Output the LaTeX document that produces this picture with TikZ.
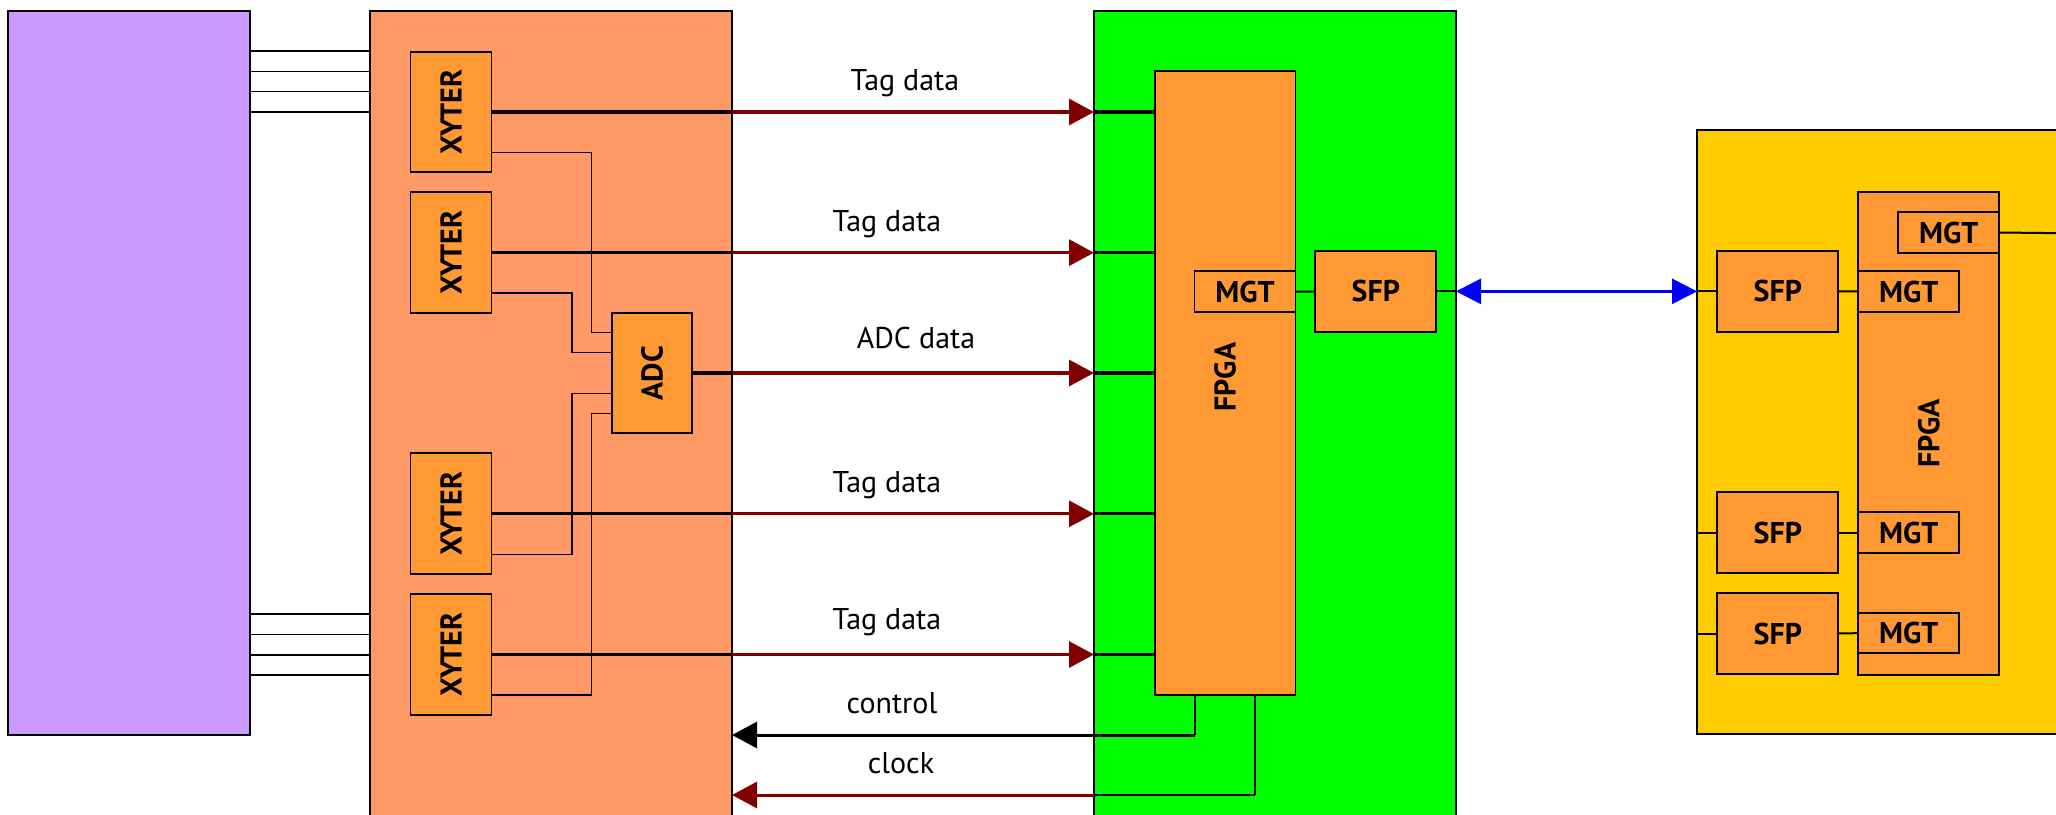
\documentclass[tikz,border=0pt]{standalone}
\usepackage{fontspec}
\setmainfont{PT Sans}
\usetikzlibrary{arrows.meta,calc,fit}
\definecolor{lilac}{HTML}{CC99FF}
\definecolor{salmon}{HTML}{FF9966}
\definecolor{chip}{HTML}{FF9933}
\definecolor{boardgreen}{HTML}{00FF00}
\definecolor{gold}{HTML}{FFCC00}
\definecolor{darkred}{HTML}{800000}
\definecolor{linkblue}{HTML}{0000FF}
\begin{document}
\begin{tikzpicture}[x=0.5pt,y=-0.5pt,
  board/.style={draw=black,line width=0.8pt,inner sep=0pt,outer sep=0pt},
  chipbox/.style={draw=black,line width=0.9pt,fill=chip,inner sep=0pt,outer sep=0pt},
  chiptext/.style={inner sep=0pt,font=\bfseries\fontsize{15}{17}\selectfont},
  hname/.style={label={[chiptext]center:#1}},
  vname/.style={label={[chiptext,rotate=90]center:#1}},
  wire/.style={line width=0.7pt},
  port/.style={line width=1pt},
  bus/.style={line width=1.6pt},
  tip/.style={-{Triangle[length=12.5pt,width=13pt]}},
  datalink/.style={bus,draw=darkred,tip},
  lbl/.style={font=\fontsize{15}{17}\selectfont,anchor=base,inner sep=0pt}
]
\useasboundingbox (0,0) rectangle (2056,814);
\clip (0,0) rectangle (2056,814);

% boards
\node[board,fill=lilac,fit={(8,11) (250,735)}] (det) {};
\node[board,fill=salmon,fit={(370,11) (732,840)}] (feb) {};
\node[board,fill=boardgreen,fit={(1094,11) (1456,840)}] (rob) {};
\node[board,fill=gold,fit={(1697,130) (2080,734)}] (dpb) {};

% front-end board chips
\node[chipbox,vname=XYTER,fit={(410.5,51.7) (491.5,172.3)}] (xa) {};
\node[chipbox,vname=XYTER,fit={(410.5,192.3) (491.5,313)}] (xb) {};
\node[chipbox,vname=XYTER,fit={(410.5,453.3) (491.5,574.3)}] (xc) {};
\node[chipbox,vname=XYTER,fit={(410.5,594) (491.5,715)}] (xd) {};
\node[chipbox,vname=ADC,fit={(612,312.7) (692,433.3)}] (adc) {};

% readout board
\node[chipbox,fit={(1154.6,71) (1295.4,694.7)}] (fpga) {};
\node[chiptext,rotate=90] (fpganame) at (1225,377) {FPGA};
\node[chipbox,hname=MGT,fit={(1194.4,271.3) (1295.4,312.3)}] (mgt) {};
\node[chipbox,hname=SFP,fit={(1315.3,250.7) (1436.2,332)}] (sfp) {};

% data processing board
\node[chipbox,vname=FPGA,fit={(1858.3,192.3) (1999.3,675)}] (dfpga) {};
\node[chipbox,hname=MGT,fit={(1898.3,212.3) (1999.3,252.7)}] (dmgt) {};
\node[chipbox,hname=MGT,fit={(1858.3,271.3) (1959.3,311.7)}] (dmgta) {};
\node[chipbox,hname=MGT,fit={(1858.3,512.3) (1959.3,553.3)}] (dmgtb) {};
\node[chipbox,hname=MGT,fit={(1858.3,613) (1959.3,653.3)}] (dmgtc) {};
\node[chipbox,hname=SFP,fit={(1717.3,251) (1838.3,331.7)}] (dsfpa) {};
\node[chipbox,hname=SFP,fit={(1717.3,492.3) (1838.3,573.3)}] (dsfpb) {};
\node[chipbox,hname=SFP,fit={(1717.3,593) (1838.3,674)}] (dsfpc) {};

% detector cables
\foreach \y in {51,71.3,91.3,112,614,634.7,655,675}
  \draw[wire] (det.east |- 0,\y) -- (feb.west |- 0,\y);

% XYTER to ADC lines
\draw[wire] ($(xa.south east)+(0,-20)$) -- ++(99.8,0) |- ($(adc.north west)+(0,20)$);
\draw[wire] ($(xb.south east)+(0,-20)$) -- ++(80.5,0) |- ($(adc.north west)+(0,40)$);
\draw[wire] ($(xc.south east)+(0,-20)$) -- ++(80.5,0) |- ($(adc.south west)+(0,-40)$);
\draw[wire] ($(xd.south east)+(0,-20)$) -- ++(99.8,0) |- ($(adc.south west)+(0,-20)$);

% data links front-end -> readout
\foreach \src in {xa,xb,adc,xc,xd}{
  \draw[bus] (\src.east) -- (\src.east -| feb.east);
  \draw[datalink] (\src.east -| feb.east) -- (\src.east -| rob.west);
  \draw[bus] (\src.east -| rob.west) -- (\src.east -| fpga.west);
}
\node[lbl] (la) at (905,90.7) {Tag data};
\node[lbl] (lb) at (887,231) {Tag data};
\node[lbl] (lc) at (916,348) {ADC data};
\node[lbl] (ld) at (887,492.7) {Tag data};
\node[lbl] (le) at (887,629) {Tag data};

% control and clock back to the front-end board
\coordinate (ctl) at ($(fpga.south west)+(40.4,0)$);
\coordinate (ctlbend) at (ctl |- 0,735);
\coordinate (clk) at ($(fpga.south west)+(100.4,0)$);
\coordinate (clkbend) at (clk |- 0,795);
\draw[port] (ctl) -- (ctlbend);
\draw[line width=1.5pt,tip] (ctlbend) -- (ctlbend -| feb.east);
\draw[port] (clk) -- (clkbend);
\draw[bus,line width=1.3pt] (clkbend) -- (clkbend -| rob.west);
\draw[datalink,line width=1.5pt] (clkbend -| rob.west) -- (clkbend -| feb.east);
\node[lbl] (lf) at (892,713.3) {control};
\node[lbl] (lg) at (901,773.3) {clock};

% optical link
\draw[port] (mgt) -- (sfp);
\draw[port] (sfp.east) -- (sfp.east -| rob.east);
\draw[line width=1.4pt,draw=linkblue,
  {Triangle[length=12.5pt,width=12.5pt]}-{Triangle[length=12.5pt,width=12.5pt]}]
  (sfp.east -| rob.east) -- (dsfpa.west -| dpb.west);
\foreach \s/\m in {dsfpa/dmgta,dsfpb/dmgtb,dsfpc/dmgtc}{
  \draw[port] (\s.west -| dpb.west) -- (\s.west);
  \draw[port] (\s.east) -- (\m.west);
}
\coordinate (dpbout) at (2080,233.4);
\draw[port] (dmgt.east) -- (dpbout);
\end{tikzpicture}
\end{document}
